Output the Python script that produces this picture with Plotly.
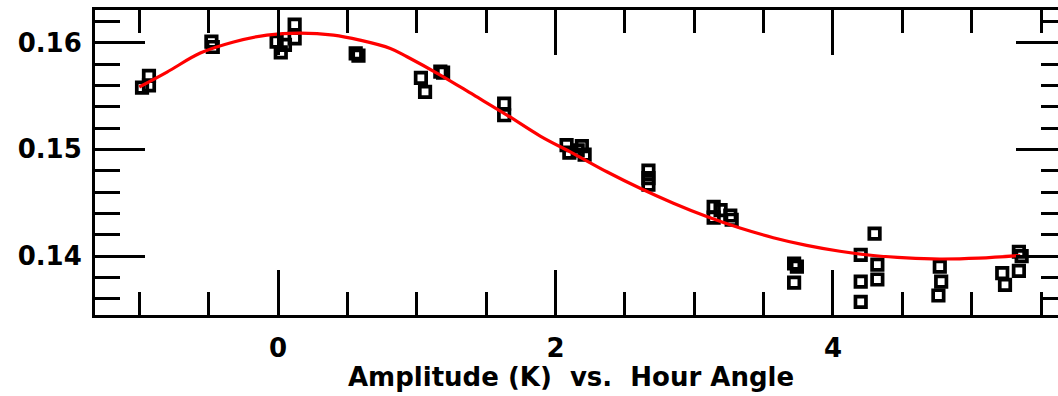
import plotly.graph_objects as go

# Observed amplitude points (hour angle, amplitude)
obs_x = [-0.98, -0.93, -0.93,
         -0.48, -0.47,
         -0.01, 0.02, 0.05, 0.12, 0.12,
         0.56, 0.58,
         1.03, 1.06, 1.17, 1.19,
         1.63, 1.63,
         2.08, 2.10, 2.16, 2.19, 2.21,
         2.67, 2.67, 2.67,
         3.14, 3.14, 3.19, 3.26, 3.27,
         3.72, 3.74, 3.72,
         4.20, 4.20, 4.20, 4.30, 4.32, 4.32,
         4.77, 4.78, 4.76,
         5.22, 5.24, 5.34, 5.36, 5.34]
obs_y = [0.1558, 0.1560, 0.1569,
         0.1601, 0.1596,
         0.1601, 0.1591, 0.1598, 0.1617, 0.1604,
         0.1590, 0.1588,
         0.1567, 0.1554, 0.1573, 0.1572,
         0.1543, 0.1532,
         0.1504, 0.1497, 0.1499, 0.1503, 0.1495,
         0.1480, 0.1473, 0.1467,
         0.1446, 0.1436, 0.1443, 0.1438, 0.1434,
         0.1393, 0.1390, 0.1375,
         0.1401, 0.1376, 0.1357, 0.1421, 0.1392, 0.1378,
         0.1390, 0.1376, 0.1363,
         0.1384, 0.1373, 0.1404, 0.1400, 0.1386]

# Fitted curve
fit_x = [-1.00, -0.80, -0.56, -0.32, -0.08, 0.16, 0.40, 0.59, 0.81, 0.93,
         1.17, 1.41, 1.65, 1.89, 2.13, 2.37, 2.61, 2.85, 3.09, 3.33,
         3.57, 3.81, 4.05, 4.29, 4.53, 4.77, 5.05, 5.35]
fit_y = [0.15585, 0.15725, 0.15903, 0.16007, 0.16072, 0.16091, 0.16072, 0.16025, 0.15947, 0.15869,
         0.15697, 0.15510, 0.15322, 0.15125, 0.14960, 0.14790, 0.14635, 0.14495, 0.14370, 0.14262,
         0.14172, 0.14100, 0.14045, 0.14005, 0.13982, 0.13972, 0.13980, 0.14005]

x_range = [-1.319, 5.622]
y_range = [0.13447, 0.16307]

FONT = dict(family="DejaVu Sans", size=26, color="black", weight="bold")

fig = go.Figure()
fig.add_trace(go.Scatter(
    x=obs_x, y=obs_y, mode="markers",
    marker=dict(symbol="square-open", size=10.5, color="black", line=dict(width=3.7)),
    showlegend=False, hoverinfo="skip"))
fig.add_trace(go.Scatter(
    x=fit_x, y=fit_y, mode="lines", yaxis="y2",
    line=dict(color="#ff0000", width=3.2, shape="spline", smoothing=1.0),
    showlegend=False, hoverinfo="skip"))

fig.update_layout(
    width=1058, height=396,
    margin=dict(l=95, r=0, t=10, b=81),
    paper_bgcolor="white", plot_bgcolor="white",
    font=FONT,
    xaxis=dict(
        range=x_range, showgrid=False, zeroline=False,
        showline=True, linecolor="black", linewidth=3, mirror="ticks",
        ticks="inside", ticklen=45, tickwidth=3, tickcolor="black",
        tick0=0, dtick=2, tickfont=FONT, ticklabelstandoff=8,
        minor=dict(ticks="inside", ticklen=23, tickwidth=3, tickcolor="black",
                   tick0=0, dtick=0.5, showgrid=False),
    ),
    yaxis=dict(
        range=y_range, showgrid=False, zeroline=False,
        showline=True, linecolor="black", linewidth=3, mirror=False,
        ticks="inside", ticklen=50, tickwidth=3, tickcolor="black",
        tick0=0, dtick=0.01, tickformat=".2f", tickfont=FONT, ticklabelstandoff=5,
        minor=dict(ticks="inside", ticklen=25, tickwidth=3, tickcolor="black",
                   tick0=0, dtick=0.002, showgrid=False),
    ),
    yaxis2=dict(
        range=y_range, overlaying="y", side="right", showgrid=False, zeroline=False,
        showline=False, showticklabels=False,
        ticks="inside", ticklen=42, tickwidth=3, tickcolor="black",
        tick0=0, dtick=0.01,
        minor=dict(ticks="inside", ticklen=17, tickwidth=3, tickcolor="black",
                   tick0=0, dtick=0.002, showgrid=False),
    ),
    annotations=[dict(
        text="Amplitude (K)\u00a0\u00a0vs.\u00a0\u00a0Hour Angle",
        xref="paper", yref="paper", x=0.494, y=-0.2033,
        xanchor="center", yanchor="middle", showarrow=False, font=FONT)],
)

fig.write_html("out.html")
